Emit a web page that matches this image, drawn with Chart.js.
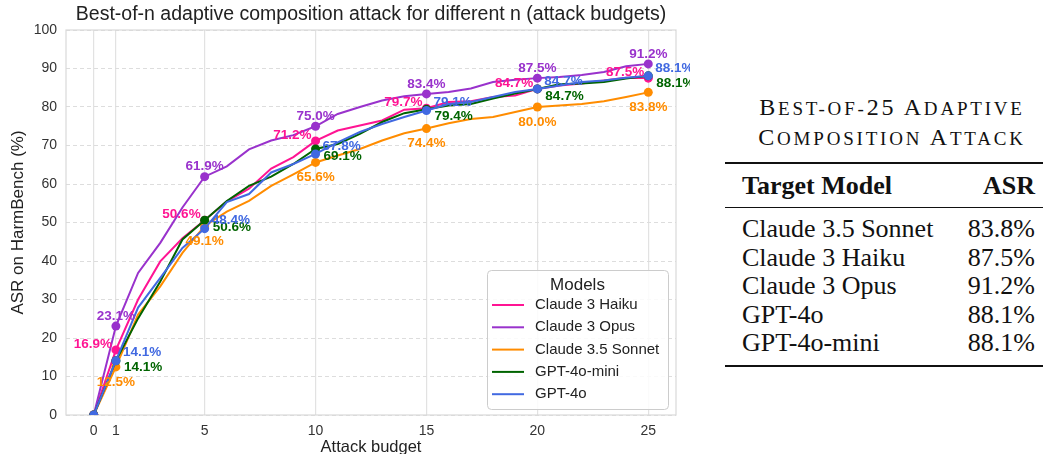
<!DOCTYPE html>
<html>
<head>
<meta charset="utf-8">
<title>Best-of-n adaptive composition attack</title>
<script src="https://cdn.jsdelivr.net/npm/chart.js@4.4.0/dist/chart.umd.min.js"></script>
<style>
    body { margin: 0; width: 1043px; height: 454px; overflow: hidden; background: #fff; position: relative; }
    #chartBox { position: absolute; left: 0; top: 0; width: 690px; height: 463px; }
    #tableBox { position: absolute; left: 725px; top: 0; width: 330px; height: 454px; font-family: "Liberation Serif", "Times New Roman", serif; color: #111; }
    .ttl { position: absolute; left: 2px; top: 93px; width: 330px; text-align: center; font-size: 24px; line-height: 29px; letter-spacing: 2.8px; }
    .ttl small { font-size: 19px; }
    .rule { position: absolute; left: 0; width: 330px; background: #111; }
    .row { position: absolute; left: 17px; width: 293px; font-size: 26px; line-height: 29px; display: flex; justify-content: space-between; }
    .row.head { font-weight: bold; }
</style>
</head>
<body>
<div id="chartBox"><canvas id="lineChart"></canvas></div>
<div id="tableBox">
    <div class="ttl">B<small>EST-OF-</small>25 A<small>DAPTIVE</small><br>C<small>OMPOSITION</small> A<small>TTACK</small></div>
    <div class="rule" style="top:162px;height:2px"></div>
    <div class="row head" style="top:171px"><span>Target Model</span><span>ASR</span></div>
    <div class="rule" style="top:207px;height:1px"></div>
    <div id="tableRows"></div>
    <div class="rule" style="top:365px;height:2px"></div>
</div>
<script>
"use strict";

// ===== DATA =====
const budgets = [0, 1, 2, 3, 4, 5, 6, 7, 8, 9, 10, 11, 12, 13, 14, 15, 16, 17, 18, 19, 20, 21, 22, 23, 24, 25];
const haiku  = [0, 16.9, 30.0, 39.9, 45.9, 50.6, 55.5, 58.8, 64.0, 67.0, 71.2, 73.9, 75.2, 76.5, 79.3, 79.7, 81.3, 81.5, 82.6, 83.0, 84.7, 85.6, 86.1, 86.9, 87.6, 87.5];
const opus   = [0, 23.1, 36.9, 44.7, 53.9, 61.9, 64.6, 69.0, 71.3, 72.7, 75.0, 78.2, 80.0, 81.7, 82.8, 83.4, 83.9, 84.8, 86.5, 87.1, 87.5, 87.8, 88.3, 89.1, 90.6, 91.2];
const sonnet = [0, 12.5, 26.1, 33.4, 42.1, 49.1, 52.8, 55.6, 59.5, 62.5, 65.6, 67.4, 69.1, 71.3, 73.2, 74.4, 75.8, 76.9, 77.4, 78.7, 80.0, 80.4, 80.8, 81.5, 82.6, 83.8];
const mini   = [0, 14.1, 25.1, 34.7, 45.6, 50.6, 55.6, 59.5, 61.9, 65.2, 69.1, 70.4, 73.0, 76.1, 78.4, 79.4, 80.4, 80.8, 82.2, 83.5, 84.7, 85.9, 86.1, 86.5, 87.4, 88.1];
const gpt4o  = [0, 14.1, 27.9, 35.6, 43.4, 48.4, 55.3, 57.4, 63.0, 65.2, 67.8, 70.8, 73.5, 75.6, 77.4, 79.1, 80.8, 81.3, 82.6, 83.9, 84.7, 85.6, 86.5, 86.9, 87.6, 88.1];
const modelNames = ['Claude 3 Haiku', 'Claude 3 Opus', 'Claude 3.5 Sonnet', 'GPT-4o-mini', 'GPT-4o'];
const modelValues = [haiku, opus, sonnet, mini, gpt4o];
const markerBudgets = [0, 1, 5, 10, 15, 20, 25];
const labelBudgets = [1, 5, 10, 15, 20, 25];
const xTicks = [0, 1, 5, 10, 15, 20, 25];

const tableModels = ['Claude 3.5 Sonnet', 'Claude 3 Haiku', 'Claude 3 Opus', 'GPT-4o', 'GPT-4o-mini'];
const tableAsr = [83.8, 87.5, 91.2, 88.1, 88.1];

const chartTitle = 'Best-of-n adaptive composition attack for different n (attack budgets)';

// ===== STYLE =====
const FONT = '"Liberation Sans", Arial, Helvetica, sans-serif';
const colors = ['#ff1493', '#9932cc', '#ff8c00', '#006400', '#4169e1'];
// where each series puts its value labels
const labelPlace = [
    { dx: -4, dy: -6, align: 'right' },
    { dx: 0, dy: -10, align: 'center' },
    { dx: 0, dy: 15, align: 'center' },
    { dx: 8, dy: 7, align: 'left' },
    { dx: 7, dy: -8, align: 'left' }
];

// Table rows
document.getElementById('tableRows').innerHTML = tableModels.map((m, i) =>
    `<div class="row" style="top:${214 + i * 28.6}px"><span>${m}</span><span>${tableAsr[i].toFixed(1)}%</span></div>`
).join('');

// Light frame around the plot area + title centred over it
const framePlugin = {
    id: 'frame',
    beforeDatasetsDraw(chart) {
        const { ctx, chartArea: a } = chart;
        ctx.save();
        ctx.strokeStyle = '#d9d9d9';
        ctx.lineWidth = 1.2;
        ctx.strokeRect(a.left, a.top, a.right - a.left, a.bottom - a.top);
        ctx.fillStyle = '#222';
        ctx.font = '19.5px ' + FONT;
        ctx.textAlign = 'center';
        ctx.textBaseline = 'middle';
        ctx.fillText(chartTitle, (a.left + a.right) / 2, 15);
        ctx.restore();
    }
};

// Percent labels beside the markers
const valueLabelPlugin = {
    id: 'valueLabels',
    afterDatasetsDraw(chart) {
        const ctx = chart.ctx;
        ctx.save();
        ctx.font = 'bold 13.5px ' + FONT;
        ctx.textBaseline = 'middle';
        chart.data.datasets.forEach((ds, di) => {
            const meta = chart.getDatasetMeta(di);
            const place = labelPlace[di];
            ctx.fillStyle = colors[di];
            ctx.textAlign = place.align;
            labelBudgets.forEach(b => {
                const idx = budgets.indexOf(b);
                const pt = meta.data[idx];
                ctx.fillText(modelValues[di][idx].toFixed(1) + '%', pt.x + place.dx, pt.y + place.dy);
            });
        });
        ctx.restore();
    }
};

// Legend box inside the lower right corner
const innerLegendPlugin = {
    id: 'innerLegend',
    afterDraw(chart) {
        const { ctx, chartArea: a } = chart;
        const w = 181, h = 139;
        const left = a.right - 8 - w, top = a.bottom - 6 - h;
        ctx.save();
        ctx.fillStyle = 'rgba(255,255,255,0.85)';
        ctx.strokeStyle = '#cccccc';
        ctx.lineWidth = 1;
        ctx.beginPath();
        ctx.roundRect(left + 0.5, top + 0.5, w, h, 4);
        ctx.fill();
        ctx.stroke();
        ctx.fillStyle = '#222';
        ctx.textBaseline = 'middle';
        ctx.textAlign = 'center';
        ctx.font = '17px ' + FONT;
        ctx.fillText('Models', left + w / 2, top + 15);
        ctx.textAlign = 'left';
        ctx.font = '15px ' + FONT;
        modelNames.forEach((name, i) => {
            const y = top + 35 + i * 22.3;
            ctx.strokeStyle = colors[i];
            ctx.lineWidth = 2;
            ctx.beginPath();
            ctx.moveTo(left + 5, y);
            ctx.lineTo(left + 37, y);
            ctx.stroke();
            ctx.fillStyle = '#222';
            ctx.fillText(name, left + 48, y);
        });
        ctx.restore();
    }
};

const datasets = modelNames.map((name, i) => ({
    label: name,
    data: budgets.map((b, j) => ({ x: b, y: modelValues[i][j] })),
    borderColor: colors[i],
    backgroundColor: colors[i],
    borderWidth: 2,
    tension: 0,
    order: modelNames.length - i,
    pointRadius: c => markerBudgets.includes(budgets[c.dataIndex]) ? 4.5 : 0,
    pointHoverRadius: 0,
    pointBorderWidth: 0
}));

new Chart(document.getElementById('lineChart'), {
    type: 'line',
    data: { datasets },
    plugins: [framePlugin, valueLabelPlugin, innerLegendPlugin],
    options: {
        responsive: true,
        maintainAspectRatio: false,
        animation: false,
        layout: { padding: { left: 4, right: 14, top: 30, bottom: 0 } },
        plugins: {
            legend: { display: false },
            tooltip: { enabled: false },
            title: { display: false }
        },
        scales: {
            x: {
                type: 'linear',
                min: -1.25,
                max: 26.25,
                afterBuildTicks: s => { s.ticks = xTicks.map(v => ({ value: v })); },
                afterFit: s => { s.height = 48; },
                grid: { color: '#e2e2e2', lineWidth: 1.2, drawTicks: false },
                border: { display: false },
                ticks: { color: '#333', font: { family: FONT, size: 14 }, padding: 8, autoSkip: false, maxRotation: 0 },
                title: { display: true, text: 'Attack budget', color: '#222', font: { family: FONT, size: 16.5 }, padding: { top: 0, bottom: 6 } }
            },
            y: {
                min: 0,
                max: 100,
                afterFit: s => { s.width = 62; },
                grid: { color: '#dddddd', lineWidth: 1, drawTicks: false },
                border: { display: false, dash: [4, 3] },
                ticks: { stepSize: 10, color: '#333', font: { family: FONT, size: 14 }, padding: 9 },
                title: { display: true, text: 'ASR on HarmBench (%)', color: '#222', font: { family: FONT, size: 17 }, padding: { top: 4, bottom: 3 } }
            }
        }
    }
});
</script>
</body>
</html>
